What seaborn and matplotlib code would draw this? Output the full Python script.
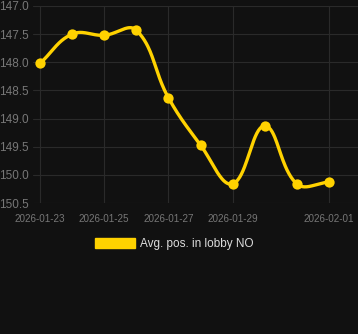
import numpy as np
import pandas as pd
import matplotlib
matplotlib.use("Agg")
import matplotlib.pyplot as plt
import seaborn as sns
from matplotlib.patches import Patch

dates = ["2026-01-23", "2026-01-24", "2026-01-25", "2026-01-26", "2026-01-27",
         "2026-01-28", "2026-01-29", "2026-01-30", "2026-01-31", "2026-02-01"]
values = [148.02, 147.5, 147.52, 147.43, 148.63, 149.47, 150.16, 149.13, 150.16, 150.13]
tick_dates = ["2026-01-23", "2026-01-25", "2026-01-27", "2026-01-29", "2026-02-01"]
y_ticks = [147.0, 147.5, 148.0, 148.5, 149.0, 149.5, 150.0, 150.5]
series_name = "Avg. pos. in lobby NO"

BG = "#111111"
GOLD = "#FFD200"
GRID = "#2a2a2a"

sns.set_theme(style="dark")
plt.rcParams['font.family'] = ['Liberation Sans', 'DejaVu Sans']

fig = plt.figure(figsize=(3.58, 3.34), dpi=100, facecolor=BG)
ax = fig.add_axes([33/358, 131/334, 325/358, 197/334])
ax.set_facecolor(BG)

day = np.array([(pd.Timestamp(d) - pd.Timestamp(dates[0])).days for d in dates], dtype=float)
v = np.array(values)

# Chart.js-like bezier smoothing in pixel-ish space (rendering only)
sx, sy = 32.1, 56.3
P = np.column_stack([day * sx, v * sy])
n = len(P)
tension = 0.4
cp_prev = P.copy()
cp_next = P.copy()
for i in range(n):
    prev = P[max(i - 1, 0)]
    cur = P[i]
    nxt = P[min(i + 1, n - 1)]
    d01 = np.hypot(*(cur - prev))
    d12 = np.hypot(*(nxt - cur))
    tot = d01 + d12
    s01 = d01 / tot if tot > 0 else 0
    s12 = d12 / tot if tot > 0 else 0
    cp_prev[i] = cur - tension * s01 * (nxt - prev)
    cp_next[i] = cur + tension * s12 * (nxt - prev)
curve = []
t = np.linspace(0, 1, 40)[:, None]
for i in range(n - 1):
    p0, p1, p2, p3 = P[i], cp_next[i], cp_prev[i + 1], P[i + 1]
    seg = ((1 - t) ** 3) * p0 + 3 * ((1 - t) ** 2) * t * p1 + 3 * (1 - t) * t ** 2 * p2 + t ** 3 * p3
    curve.append(seg if i == 0 else seg[1:])
curve = np.vstack(curve)
curve_df = pd.DataFrame({"day": curve[:, 0] / sx, "val": curve[:, 1] / sy})
pts_df = pd.DataFrame({"day": day, "val": v})

sns.lineplot(data=curve_df, x="day", y="val", ax=ax, color=GOLD, linewidth=2.4,
             sort=False, estimator=None, zorder=3)
sns.scatterplot(data=pts_df, x="day", y="val", ax=ax, color=GOLD, s=55,
                edgecolor=GOLD, linewidth=0, zorder=4)

ax.set_xlim(-7/32.1, 318/32.1)
ax.set_ylim(150.5, 147.0)
tick_pos = [(pd.Timestamp(d) - pd.Timestamp(dates[0])).days for d in tick_dates]
ax.set_xticks(tick_pos)
ax.set_xticklabels(tick_dates)
ax.set_yticks(y_ticks)
ax.set_yticklabels([f"{t:.1f}" for t in y_ticks])
ax.set_xlabel("")
ax.set_ylabel("")
ax.grid(True, color=GRID, linewidth=0.8)
for s in ax.spines.values():
    s.set_visible(False)
ax.tick_params(axis="y", colors="#777777", labelsize=8.5, length=0, pad=3)
ax.tick_params(axis="x", colors="#777777", labelsize=7.1, length=6, color=GRID, pad=2)

handle = Patch(facecolor=GOLD, edgecolor=GOLD)
fig.legend([handle], [series_name], loc="center", bbox_to_anchor=(174/358, 1 - 244/334),
           frameon=False, fontsize=8.5, labelcolor="#dddddd",
           handlelength=3.4, handleheight=1.0, handletextpad=0.45)

fig.savefig("out.png", dpi=100, facecolor=BG)
